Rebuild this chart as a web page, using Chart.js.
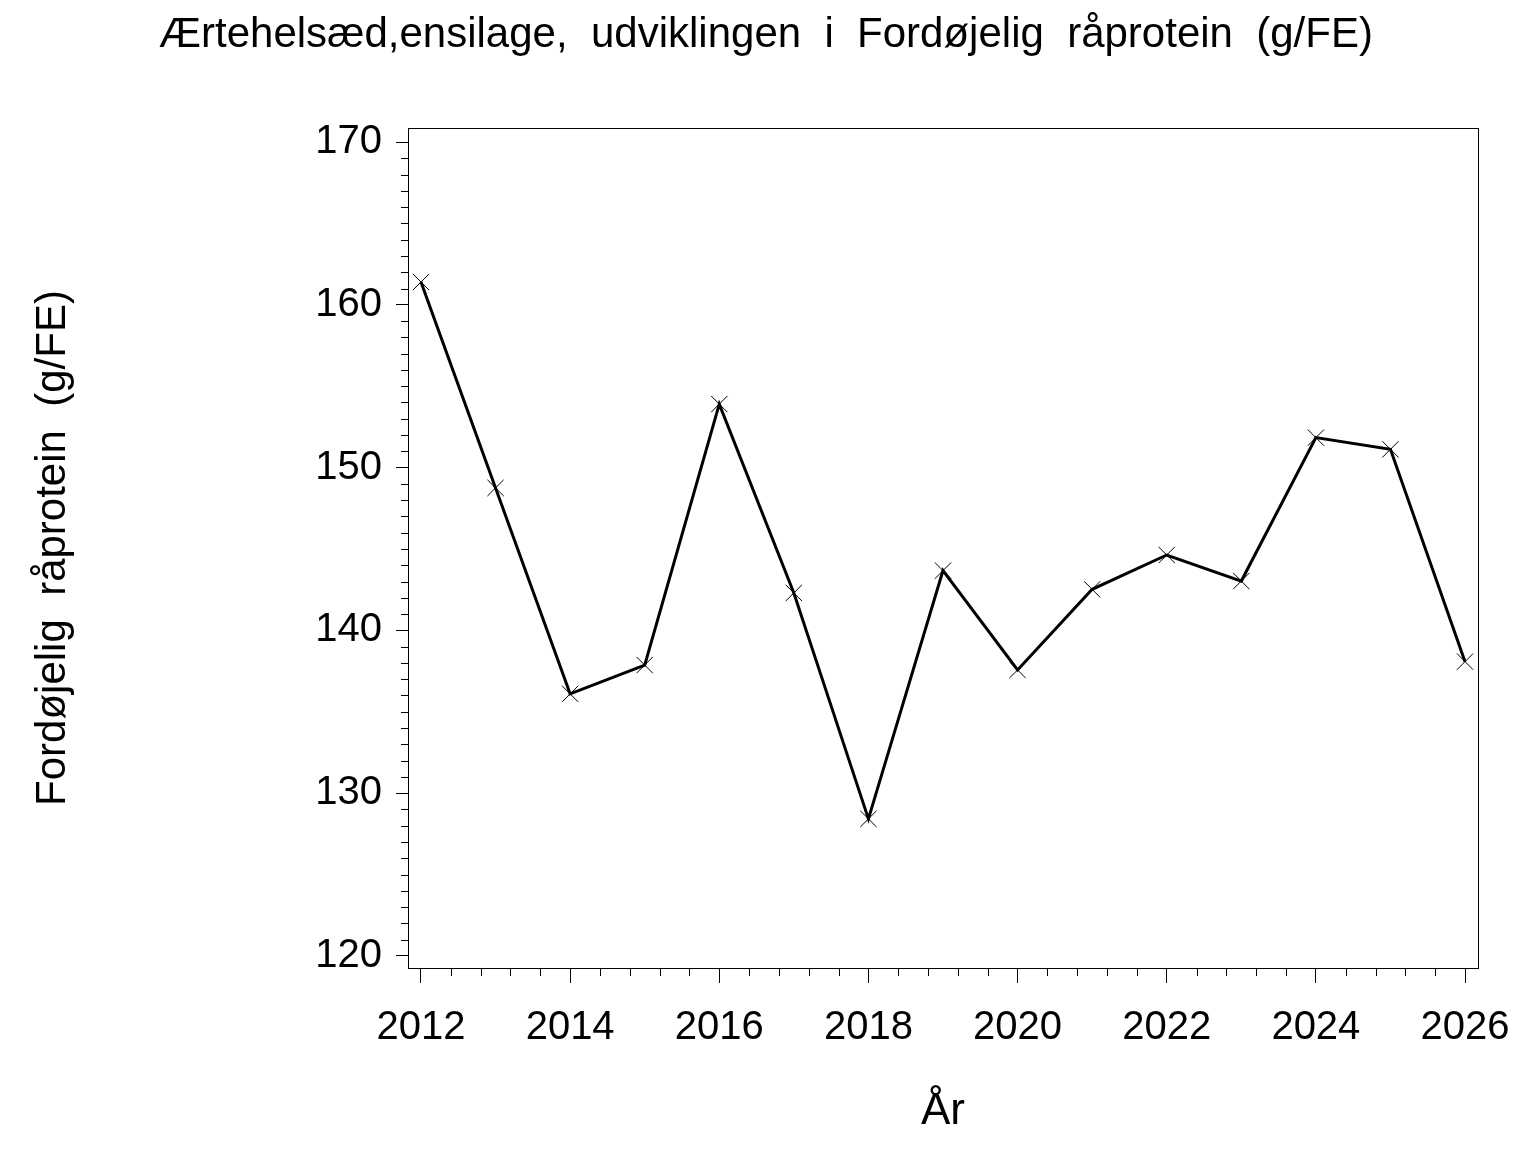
<!DOCTYPE html>
<html>
<head>
<meta charset="utf-8">
<script src="https://cdn.jsdelivr.net/npm/chart.js@4/dist/chart.umd.min.js"></script>
<style>
html,body{margin:0;padding:0;background:#fff;}
#wrap{width:1536px;height:1152px;}
</style>
</head>
<body>
<div id="wrap"><canvas id="c" width="1536" height="1152"></canvas></div>
<script>
const years = [2012,2013,2014,2015,2016,2017,2018,2019,2020,2021,2022,2023,2024,2025,2026];
const values = [161.4,148.75,136.1,137.87,153.9,142.3,128.42,143.67,137.57,142.52,144.63,143.03,151.84,151.12,138.08];
const xTickLabels = [2012,2014,2016,2018,2020,2022,2024,2026];
const yTickLabels = [120,130,140,150,160,170];
const titleText = 'Ærtehelsæd,ensilage,  udviklingen  i  Fordøjelig  råprotein  (g/FE)';
const yTitle = 'Fordøjelig  råprotein  (g/FE)';
const xTitle = 'År';

const FONT = "'Liberation Sans', Arial, Helvetica, sans-serif";

const minorTicks = {
  id: 'minorTicks',
  afterDraw(chart) {
    const ctx = chart.ctx, ca = chart.chartArea;
    const xs = chart.scales.x, ys = chart.scales.y;
    ctx.save();
    ctx.strokeStyle = '#000';
    ctx.lineWidth = 1;
    ctx.beginPath();
    for (let v = 120; v <= 170; v++) {
      if (v % 10 === 0) continue;
      const p = Math.round(ys.getPixelForValue(v)) + 0.5;
      ctx.moveTo(ca.left - 7, p); ctx.lineTo(ca.left, p);
    }
    for (let i = 0; i <= 35; i++) {
      if (i % 5 === 0) continue;
      const v = 2012 + i * 0.4;
      const p = Math.round(xs.getPixelForValue(v)) + 0.5;
      ctx.moveTo(p, ca.bottom); ctx.lineTo(p, ca.bottom + 8);
    }
    ctx.stroke();
    ctx.strokeRect(Math.round(ca.left) + 0.5, Math.round(ca.top) + 0.5, Math.round(ca.right - ca.left), Math.round(ca.bottom - ca.top));
    ctx.restore();
  }
};

new Chart(document.getElementById('c'), {
  type: 'line',
  data: {
    datasets: [{
      data: years.map((y, i) => ({x: y, y: values[i]})),
      borderColor: '#000',
      borderWidth: 3,
      pointStyle: 'crossRot',
      pointRadius: 11.5,
      pointBorderWidth: 1,
      pointBorderColor: '#000',
      pointBackgroundColor: '#000',
      tension: 0,
      clip: false
    }]
  },
  plugins: [minorTicks],
  options: {
    responsive: false,
    animation: false,
    devicePixelRatio: 1,
    layout: {padding: {left: 54, right: 58, top: 0, bottom: 0}},
    plugins: {
      legend: {display: false},
      tooltip: {enabled: false},
      title: {
        display: true,
        text: titleText,
        color: '#000',
        font: {family: FONT, size: 42, weight: 'normal', lineHeight: 1.2},
        padding: {top: 10, bottom: 67.6}
      }
    },
    scales: {
      x: {
        type: 'linear',
        min: 2011.826,
        max: 2026.174,
        afterBuildTicks(s) { s.ticks = xTickLabels.map(v => ({value: v})); },
        afterFit(s) { s.height = 184; },
        grid: {display: true, drawOnChartArea: false, tickLength: 15, tickColor: '#000', tickWidth: 1},
        border: {display: true, color: '#000', width: 1},
        ticks: {
          color: '#000', padding: 20.5, maxRotation: 0, autoSkip: false,
          font: {family: FONT, size: 40, lineHeight: 1.2},
          callback: v => String(v)
        },
        title: {
          display: true, text: xTitle, color: '#000',
          font: {family: FONT, size: 44, lineHeight: 1.2},
          padding: {top: 0, bottom: 14}
        }
      },
      y: {
        type: 'linear',
        min: 119.26,
        max: 170.86,
        afterBuildTicks(s) { s.ticks = yTickLabels.map(v => ({value: v})); },
        afterFit(s) { s.width = 354; },
        grid: {display: true, drawOnChartArea: false, tickLength: 12, tickColor: '#000', tickWidth: 1},
        border: {display: true, color: '#000', width: 1},
        ticks: {
          color: '#000', padding: 14, autoSkip: false,
          font: {family: FONT, size: 40, lineHeight: 1.2},
          callback: v => String(v)
        },
        title: {
          display: true, text: yTitle, color: '#000',
          font: {family: FONT, size: 42, lineHeight: 1.2},
          padding: {top: -26.2, bottom: 0}
        }
      }
    }
  }
});
</script>
</body>
</html>
